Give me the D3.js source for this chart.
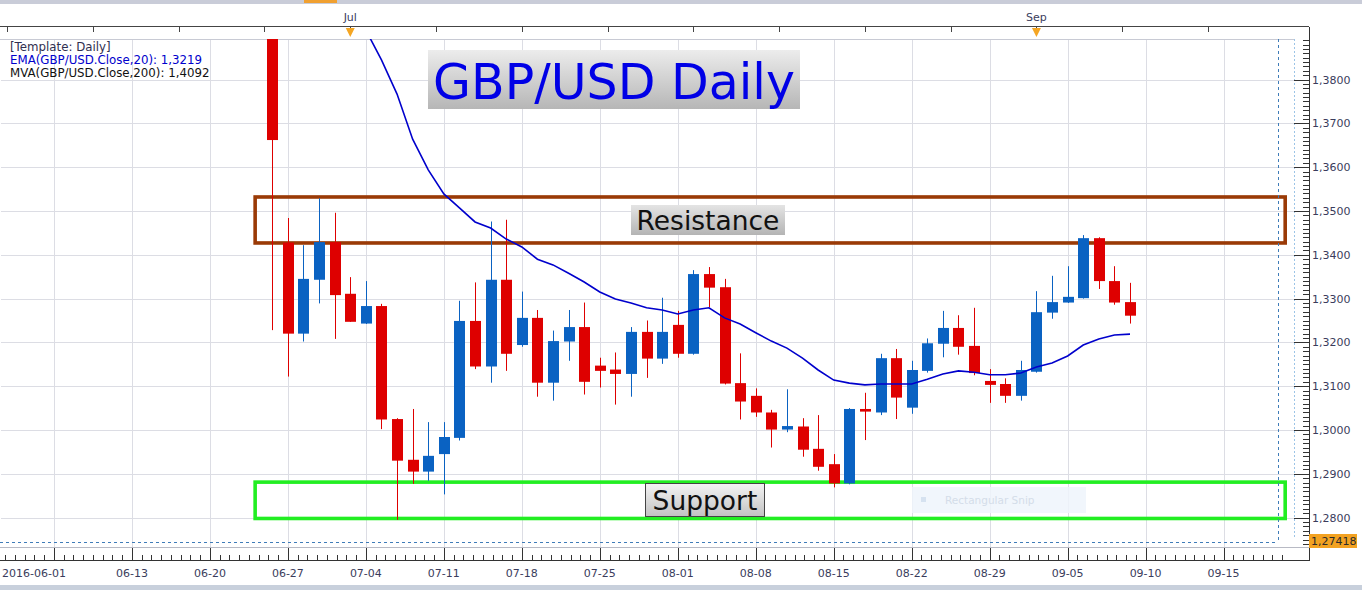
<!DOCTYPE html>
<html><head><meta charset="utf-8">
<script src="https://cdn.jsdelivr.net/npm/d3@7"></script>
<style>body{margin:0;background:#fff;overflow:hidden}svg{display:block;font-family:"DejaVu Sans",Verdana,sans-serif}</style>
</head><body><svg id="c" width="1362" height="590"></svg>
<script>
// ---------- data ----------
const dates = ["2016-06-24","2016-06-27","2016-06-28","2016-06-29","2016-06-30","2016-07-01",
"2016-07-04","2016-07-05","2016-07-06","2016-07-07","2016-07-08","2016-07-11","2016-07-12","2016-07-13","2016-07-14","2016-07-15",
"2016-07-18","2016-07-19","2016-07-20","2016-07-21","2016-07-22","2016-07-25","2016-07-26","2016-07-27","2016-07-28","2016-07-29",
"2016-08-01","2016-08-02","2016-08-03","2016-08-04","2016-08-05","2016-08-08","2016-08-09","2016-08-10","2016-08-11","2016-08-12",
"2016-08-15","2016-08-16","2016-08-17","2016-08-18","2016-08-19","2016-08-22","2016-08-23","2016-08-24","2016-08-25","2016-08-26",
"2016-08-29","2016-08-30","2016-08-31","2016-09-01","2016-09-02","2016-09-05","2016-09-06","2016-09-07","2016-09-08","2016-09-09"];
const openV  = [1.4877,1.3428,1.3220,1.3343,1.3429,1.3311, 1.3243,1.3283,1.3025,1.2932,1.2905,1.2945,1.2982,1.3249,1.3145,1.3343,
1.3194,1.3256,1.3108,1.3202,1.3235,1.3147,1.3138,1.3128,1.3224,1.3163, 1.3240,1.3174,1.3356,1.3326,1.3107,1.3078,1.3040,1.3001,1.3008,1.2957,
1.2922,1.2878,1.3048,1.3040,1.3164,1.3051,1.3135,1.3197,1.3233,1.3192, 1.3112,1.3105,1.3078,1.3133,1.3268,1.3291,1.3301,1.3438,1.3340,1.3292];
const highV  = [1.5018,1.3484,1.3422,1.3529,1.3496,1.3349, 1.3340,1.3288,1.3027,1.3048,1.3018,1.3018,1.3295,1.3337,1.3476,1.3480,
1.3316,1.3274,1.3227,1.3274,1.3291,1.3165,1.3177,1.3235,1.3250,1.3302, 1.3272,1.3365,1.3372,1.3345,1.3175,1.3095,1.3046,1.3093,1.3027,1.3034,
1.2945,1.3050,1.3085,1.3174,1.3185,1.3158,1.3209,1.3272,1.3262,1.3279, 1.3139,1.3118,1.3158,1.3317,1.3352,1.3374,1.3445,1.3440,1.3374,1.3336];
const lowV   = [1.3228,1.3122,1.3202,1.3289,1.3208,1.3247, 1.3242,1.3002,1.2795,1.2877,1.2884,1.2853,1.2976,1.3139,1.3108,1.3135,
1.3190,1.3076,1.3067,1.3158,1.3081,1.3097,1.3058,1.3076,1.3119,1.3151, 1.3165,1.3172,1.3280,1.3104,1.3024,1.3030,1.2960,1.2995,1.2939,1.2907,
1.2869,1.2876,1.2977,1.3034,1.3025,1.3037,1.3131,1.3166,1.3172,1.3125, 1.3062,1.3062,1.3067,1.3131,1.3254,1.3290,1.3300,1.3322,1.3286,1.3243];
const closeV = [1.3662,1.3220,1.3345,1.3429,1.3308,1.3247, 1.3283,1.3024,1.2930,1.2905,1.2941,1.2984,1.3249,1.3145,1.3343,1.3174,
1.3256,1.3108,1.3203,1.3235,1.3110,1.3135,1.3128,1.3224,1.3163,1.3224, 1.3174,1.3356,1.3325,1.3106,1.3065,1.3040,1.3001,1.3009,1.2955,1.2916,
1.2878,1.3048,1.3042,1.3164,1.3074,1.3137,1.3198,1.3233,1.3190,1.3130, 1.3103,1.3078,1.3137,1.3269,1.3292,1.3304,1.3438,1.3340,1.3291,1.3261];
// EMA(20) values starting 2016-07-04
const emaStartDate = "2016-07-04";
const emaV = [1.3913,1.3845,1.3767,1.3664,1.3594, 1.3539,1.3507,1.3475,1.3461,1.3436, 1.3418,1.3390,1.3377,1.3358,1.3338,
1.3315,1.3299,1.3290,1.3279,1.3274, 1.3265,1.3274,1.3279,1.3256,1.3242, 1.3222,1.3203,1.3187,1.3164,1.3137,
1.3114,1.3107,1.3103,1.3105,1.3105, 1.3105,1.3116,1.3128,1.3135,1.3132, 1.3126,1.3126,1.3130,
1.3144,1.3153,1.3169,1.3194,1.3208,1.3217,1.3219];
const xLabelDates = ["2016-06-01","2016-06-13","2016-06-20","2016-06-27","2016-07-04","2016-07-11","2016-07-18","2016-07-25",
"2016-08-01","2016-08-08","2016-08-15","2016-08-22","2016-08-29","2016-09-05","2016-09-12","2016-09-19"];
const xLabels = ["2016-06-01","06-13","06-20","06-27","07-04","07-11","07-18","07-25","08-01","08-08","08-15","08-22","08-29","09-05","09-10","09-15"];
const topLabelDates = ["2016-07-01","2016-09-01"];
const topLabels = ["Jul","Sep"];
const yTicks = [1.28,1.29,1.30,1.31,1.32,1.33,1.34,1.35,1.36,1.37,1.38];
const resistance = [1.3427, 1.3532];
const support = [1.2798, 1.2881];
const zoneSpan = [15.9, 81.95]; // trading-day positions (from 2016-06-01)
const cursorPrice = 1.27418;
const emaText = "EMA(GBP/USD.Close,20): 1,3219";
const mvaText = "MVA(GBP/USD.Close,200): 1,4092";

// ---------- scales ----------
const parse = d3.utcParse("%Y-%m-%d");
const days = d3.utcDay.range(parse("2016-06-01"), parse("2016-10-01")).filter(d => d.getUTCDay() % 6 !== 0);
const idxOf = s => days.findIndex(d => +d === +parse(s));
const x = d3.scaleLinear().domain([0, 78]).range([7.18, 7.18 + 78 * 15.595]);
const y = d3.scaleLinear().domain([1.28, 1.38]).range([517.6, 79.6]);
const fmt = v => d3.format(".4f")(v).replace(".", ",");

const svg = d3.select("#c");
const L = 1, R = 1294, T = 39, B = 547, AX = 1309;
const defs = svg.append("defs");
defs.append("clipPath").attr("id", "clip").append("rect").attr("x", L).attr("y", T).attr("width", R - L).attr("height", B - T);
function grad(id, c1, c2) {
  const g = defs.append("linearGradient").attr("id", id).attr("x1", 0).attr("y1", 0).attr("x2", 0).attr("y2", 1);
  g.append("stop").attr("offset", "0%").attr("stop-color", c1);
  g.append("stop").attr("offset", "100%").attr("stop-color", c2);
}
grad("gTitle", "#ececec", "#b6b6b6");
grad("gRes", "#e4e4e4", "#b4b4b4");
grad("gSup", "#f4f4f4", "#c2c2c2");

// top & bottom bands
svg.append("rect").attr("x", 0).attr("y", 0).attr("width", 1362).attr("height", 4).attr("fill", "#c9ccd8");
svg.append("rect").attr("x", 304).attr("y", 0).attr("width", 33).attr("height", 3).attr("fill", "#f0a030");
svg.append("rect").attr("x", 0).attr("y", 585).attr("width", 1362).attr("height", 5).attr("fill", "#c8d0dc");

// grid
const weekIdx = d3.range(3, 82, 5);
const grid = svg.append("g");
grid.selectAll("line.v").data(weekIdx).join("line")
  .attr("x1", d => Math.round(x(d)) + 0.5).attr("x2", d => Math.round(x(d)) + 0.5)
  .attr("y1", T).attr("y2", B).attr("stroke", "#dcdde4");
grid.selectAll("line.h").data(yTicks).join("line")
  .attr("x1", L).attr("x2", R).attr("y1", d => Math.round(y(d)) + 0.5).attr("y2", d => Math.round(y(d)) + 0.5)
  .attr("stroke", "#dcdde4");
svg.append("line").attr("x1", 0).attr("x2", R).attr("y1", T + 0.5).attr("y2", T + 0.5).attr("stroke", "#c8cad4");
svg.append("line").attr("x1", 0).attr("x2", AX).attr("y1", B + 0.5).attr("y2", B + 0.5).attr("stroke", "#b8bac4");
svg.append("line").attr("x1", R + 0.5).attr("x2", R + 0.5).attr("y1", T).attr("y2", B - 8)
  .attr("stroke", "#9cc4e6").attr("stroke-dasharray", "2,2");

// zones (under candles)
const zones = svg.append("g").attr("clip-path", "url(#clip)");
[[resistance, "#9a3a06"], [support, "#22ee22"]].forEach(([z, c]) => {
  zones.append("rect").attr("x", x(zoneSpan[0])).attr("y", y(z[1]))
    .attr("width", x(zoneSpan[1]) - x(zoneSpan[0])).attr("height", y(z[0]) - y(z[1]))
    .attr("fill", "none").attr("stroke", c).attr("stroke-width", 3.6);
});

// candles
const plot = svg.append("g").attr("clip-path", "url(#clip)");
const cd = dates.map((d, i) => ({i: idxOf(d), o: openV[i], h: highV[i], l: lowV[i], c: closeV[i]}));
const col = d => d.c >= d.o ? "#0a62c2" : "#de0000";
plot.selectAll("line.w").data(cd).join("line")
  .attr("x1", d => Math.round(x(d.i)) + 0.5).attr("x2", d => Math.round(x(d.i)) + 0.5)
  .attr("y1", d => y(d.h)).attr("y2", d => y(d.l)).attr("stroke", col).attr("stroke-width", 1);
plot.selectAll("rect.b").data(cd).join("rect")
  .attr("x", d => Math.round(x(d.i)) - 5).attr("width", 11)
  .attr("y", d => y(Math.max(d.o, d.c))).attr("height", d => Math.max(2, Math.abs(y(d.o) - y(d.c))))
  .attr("fill", col);

// EMA
const e0 = idxOf(emaStartDate);
plot.append("path").datum(emaV).attr("fill", "none").attr("stroke", "#0000cc").attr("stroke-width", 1.6)
  .attr("d", d3.line().x((v, k) => x(e0 + k)).y(v => y(v)));

// crosshair
svg.append("line").attr("x1", 0).attr("x2", 1278).attr("y1", Math.round(y(cursorPrice)) - 0.5).attr("y2", Math.round(y(cursorPrice)) - 0.5)
  .attr("stroke", "#3f7cb8").attr("stroke-dasharray", "3,3");
svg.append("line").attr("x1", 1278.5).attr("x2", 1278.5).attr("y1", T).attr("y2", Math.round(y(cursorPrice)))
  .attr("stroke", "#3f7cb8").attr("stroke-dasharray", "3,3");

// right axis
const ax = svg.append("g");
ax.append("line").attr("x1", AX + 0.5).attr("x2", AX + 0.5).attr("y1", 27).attr("y2", 561).attr("stroke", "#333");
const minor = d3.range(1274, 1390).map(v => v / 1000);
ax.selectAll("line.m").data(minor).join("line")
  .attr("x1", d => yTicks.some(t => Math.abs(t - d) < 1e-6) ? R : AX - 6).attr("x2", AX)
  .attr("y1", d => Math.round(y(d)) + 0.5).attr("y2", d => Math.round(y(d)) + 0.5).attr("stroke", "#333");
ax.selectAll("text").data(yTicks).join("text")
  .attr("x", 1312).attr("y", d => y(d) + 4).attr("font-size", 11).attr("fill", "#3a3c5c").text(fmt);
ax.append("rect").attr("x", 1309).attr("y", 534).attr("width", 48).attr("height", 14).attr("fill", "#f3a221");
ax.append("text").attr("x", 1311).attr("y", 545).attr("font-size", 11).attr("fill", "#2a2a2a").text(d3.format(".5f")(cursorPrice).replace(".", ","));

// bottom axis
const bx = svg.append("g");
bx.append("line").attr("x1", 0).attr("x2", AX).attr("y1", 560.5).attr("y2", 560.5).attr("stroke", "#333");
const bMinor = d3.range(3 - 5, 82, 5 / 8);
bx.selectAll("line.m").data(bMinor).join("line")
  .attr("x1", d => Math.round(x(d)) + 0.5).attr("x2", d => Math.round(x(d)) + 0.5)
  .attr("y1", (d, k) => k % 8 === 0 ? 548 : 555).attr("y2", 560).attr("stroke", "#333")
  .filter(d => x(d) < 0 || x(d) > AX).remove();
bx.selectAll("text").data(xLabelDates).join("text")
  .attr("x", (d, k) => Math.max(2, x(idxOf(d)) - (k === 0 ? 32 : 0)))
  .attr("text-anchor", (d, k) => k === 0 ? "start" : "middle")
  .attr("y", 577).attr("font-size", 11).attr("fill", "#3a3c5c").text((d, k) => xLabels[k]);

// top axis
const tx = svg.append("g");
tx.append("line").attr("x1", 0).attr("x2", AX).attr("y1", 26.5).attr("y2", 26.5).attr("stroke", "#444");
tx.selectAll("line.t").data(d3.range(0, 82, 5.5)).join("line")
  .attr("x1", d => Math.round(x(d)) + 0.5).attr("x2", d => Math.round(x(d)) + 0.5)
  .attr("y1", 27).attr("y2", 32).attr("stroke", "#444");
topLabelDates.forEach((d, k) => {
  const px = x(idxOf(d));
  tx.append("text").attr("x", px).attr("y", 21).attr("text-anchor", "middle").attr("font-size", 11).attr("fill", "#3a3c5c").text(topLabels[k]);
  tx.append("path").attr("d", `M${px - 4.5},28 L${px + 4.5},28 L${px},37 Z`).attr("fill", "#f5a623");
});

// legend
const lg = svg.append("g").attr("font-size", 11.8);
lg.append("text").attr("x", 10).attr("y", 50.5).attr("fill", "#303050").text("[Template: Daily]");
lg.append("text").attr("x", 10).attr("y", 63.5).attr("fill", "#0000cc").text(emaText);
lg.append("text").attr("x", 10).attr("y", 76.5).attr("fill", "#111").text(mvaText);

// title & labels
svg.append("rect").attr("x", 428).attr("y", 50).attr("width", 372).attr("height", 59).attr("fill", "url(#gTitle)");
svg.append("text").attr("x", 614).attr("y", 98.5).attr("text-anchor", "middle").attr("font-size", 49).attr("fill", "#0000e6").text("GBP/USD Daily");
svg.append("rect").attr("x", 631).attr("y", 205).attr("width", 154).attr("height", 30).attr("fill", "url(#gRes)");
svg.append("text").attr("x", 708).attr("y", 229.5).attr("text-anchor", "middle").attr("font-size", 26.5).attr("fill", "#111").text("Resistance");
svg.append("rect").attr("x", 645.5).attr("y", 483.5).attr("width", 119).attr("height", 33).attr("fill", "url(#gSup)").attr("stroke", "#444");
svg.append("text").attr("x", 705).attr("y", 510).attr("text-anchor", "middle").attr("font-size", 26.5).attr("fill", "#111").text("Support");

// faint snip overlay
svg.append("rect").attr("x", 912).attr("y", 487).attr("width", 174).attr("height", 26).attr("fill", "#eef4fc").attr("opacity", 0.85);
svg.append("rect").attr("x", 921).attr("y", 497).attr("width", 5).attr("height", 5).attr("fill", "#d6e2f0");
svg.append("text").attr("x", 945).attr("y", 503.5).attr("font-size", 10.5).attr("fill", "#d4dde9").text("Rectangular Snip");
</script></body></html>
